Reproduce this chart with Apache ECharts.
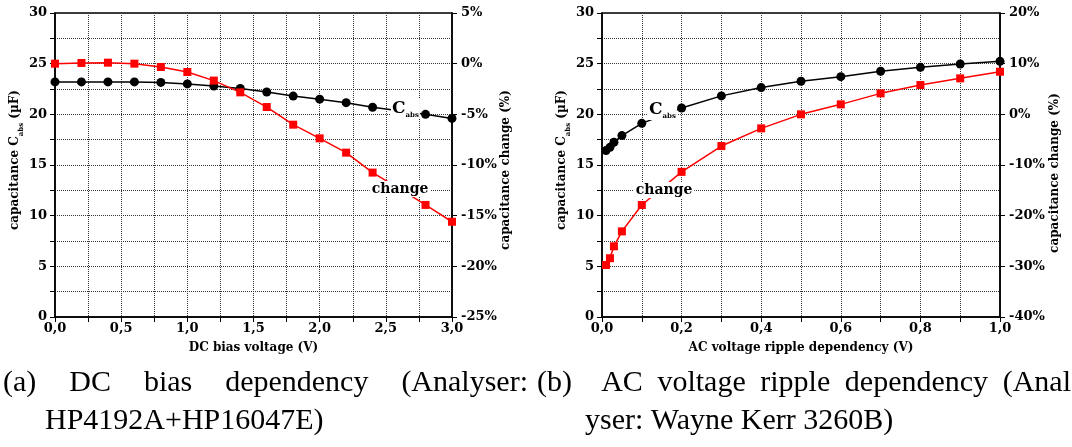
<!DOCTYPE html>
<html>
<head>
<meta charset="utf-8">
<script src="https://cdn.jsdelivr.net/npm/echarts@6/dist/echarts.min.js"></script>
<style>
html,body{margin:0;padding:0;background:#fff;}
#chart{width:1072px;height:447px;}
</style>
</head>
<body>
<div id="chart"></div>
<script>
// ---- data ----
const dcVoltage = [0.0,0.2,0.4,0.6,0.8,1.0,1.2,1.4,1.6,1.8,2.0,2.2,2.4,2.6,2.8,3.0];
const dcCabs    = [23.2,23.2,23.2,23.2,23.15,23.0,22.8,22.55,22.2,21.8,21.5,21.15,20.7,20.35,20.0,19.6];
const dcChange  = [0.0,0.07,0.1,0.0,-0.33,-0.82,-1.67,-2.83,-4.28,-6.02,-7.37,-8.78,-10.75,-12.3,-13.94,-15.6];

const acRipple  = [0.01,0.02,0.03,0.05,0.1,0.2,0.3,0.4,0.5,0.6,0.7,0.8,0.9,1.0];
const acCabs    = [16.42,16.74,17.24,17.9,19.11,20.63,21.82,22.64,23.26,23.72,24.25,24.64,24.97,25.23];
const acChange  = [-29.74,-28.4,-26.05,-23.1,-17.9,-11.35,-6.26,-2.77,0.0,1.97,4.14,5.78,7.1,8.41];

const captionA1 = ['(a)','DC','bias','dependency','(Analyser:'];
const captionA2 = 'HP4192A+HP16047E)';
const captionB1 = ['(b)','AC','voltage','ripple','dependency','(Anal'];
const captionB2 = 'yser: Wayne Kerr 3260B)';

const xNameA = 'DC bias voltage (V)';
const xNameB = 'AC voltage ripple dependency (V)';

// ---- styling helpers ----
const AX_FONT = 'DejaVu Serif';
const zip = (xs, ys) => xs.map((x, i) => [x, ys[i]]);
const comma = v => v.toFixed(1).replace('.', ',');
const gridLine = {show:true, lineStyle:{type:[1,1], color:'#333', width:1}};
const labelStyle = {color:'#000', fontFamily:AX_FONT, fontWeight:'bold', fontSize:13};

function xAxisDef(gi, max, interval, name, minorSplit) {
  return {
    gridIndex:gi, type:'value', min:0, max:max, interval:interval,
    axisLine:{show:true, lineStyle:{color:'#000', width:1.5}},
    axisTick:{show:true, inside:false, length:5, lineStyle:{color:'#000', width:1}},
    minorTick:{show:true, splitNumber:minorSplit, length:5, lineStyle:{color:'#000', width:1}},
    splitLine:gridLine, minorSplitLine:gridLine,
    axisLabel:Object.assign({formatter:comma, margin:5}, labelStyle),
    name:name, nameLocation:'middle', nameGap:25,
    nameTextStyle:{color:'#000', fontFamily:AX_FONT, fontWeight:'bold', fontSize:12}
  };
}
function yLeftDef(gi) {
  return {
    gridIndex:gi, type:'value', min:0, max:30, interval:5, position:'left',
    axisLine:{show:true, lineStyle:{color:'#000', width:1.5}},
    axisTick:{show:true, inside:false, length:5, lineStyle:{color:'#000'}},
    minorTick:{show:true, splitNumber:2, length:5, lineStyle:{color:'#000'}},
    splitLine:gridLine, minorSplitLine:gridLine,
    axisLabel:Object.assign({margin:8}, labelStyle)
  };
}
function yRightDef(gi, min, max, interval) {
  return {
    gridIndex:gi, type:'value', min:min, max:max, interval:interval, position:'right',
    axisLine:{show:true, lineStyle:{color:'#000', width:1.5}},
    axisTick:{show:true, inside:false, length:5, lineStyle:{color:'#000'}},
    splitLine:{show:false},
    axisLabel:Object.assign({margin:9, formatter:'{value}%'}, labelStyle)
  };
}
function lineSeries(xi, yi, data, color, symbol, size) {
  return {
    type:'line', xAxisIndex:xi, yAxisIndex:yi, data:data,
    symbol:symbol, symbolSize:size, showSymbol:true,
    lineStyle:{color:color, width:1.5}, itemStyle:{color:color},
    clip:false, z:3
  };
}

// ---- graphic text helpers ----
const subRich = {
  c:{fontFamily:AX_FONT, fontWeight:'bold', fontSize:17, lineHeight:19, verticalAlign:'top', fill:'#000'},
  s:{fontFamily:AX_FONT, fontWeight:'bold', fontSize:7, lineHeight:8, verticalAlign:'bottom', fill:'#000'}
};
function cabsLabel(x, y) {
  return {type:'text', x:x, y:y, z:100,
    style:{text:'{c|C}{s|abs}', rich:subRich, backgroundColor:'#fff', padding:[1,1,0,1]}};
}
function changeLabel(x, y) {
  return {type:'text', x:x, y:y, z:100,
    style:{text:'change', fontFamily:AX_FONT, fontWeight:'bold', fontSize:14, fill:'#000',
      align:'center', verticalAlign:'middle', backgroundColor:'#fff', padding:[1,2,1,2]}};
}
const yNameRich = {
  a:{fontFamily:AX_FONT, fontWeight:'bold', fontSize:12, fill:'#000', lineHeight:16, verticalAlign:'top'},
  s:{fontFamily:AX_FONT, fontWeight:'bold', fontSize:7, fill:'#000', lineHeight:8, verticalAlign:'bottom'}
};
function yNameCabs(x, y) {
  return {type:'text', x:x, y:y, rotation:Math.PI/2, z:100,
    style:{text:'{a|capacitance C}{s|abs}{a| (µF)}', rich:yNameRich, align:'center', verticalAlign:'middle'}};
}
function yNameChange(x, y) {
  return {type:'text', x:x, y:y, rotation:Math.PI/2, z:100,
    style:{text:'capacitance change (%)', fontFamily:AX_FONT, fontWeight:'bold', fontSize:12, fill:'#000',
      align:'center', verticalAlign:'middle'}};
}

const CAP_FONT_SIZE = 30;
const CAP_FONT = CAP_FONT_SIZE + 'px "Liberation Serif"';
const measureCtx = document.createElement('canvas').getContext('2d');
// gapWeights: relative weight of each inter-word gap (the label gap is wider)
function justifiedWords(words, x0, x1, y, gapWeights) {
  measureCtx.font = CAP_FONT;
  const widths = words.map(w => measureCtx.measureText(w).width);
  const total = widths.reduce((a, b) => a + b, 0);
  const weights = gapWeights || words.slice(1).map(() => 1);
  const unit = (x1 - x0 - total) / weights.reduce((a, b) => a + b, 0);
  let x = x0;
  return words.map((w, i) => {
    const el = {type:'text', x:x, y:y, z:100,
      style:{text:w, fontFamily:'Liberation Serif', fontSize:CAP_FONT_SIZE, fill:'#000', verticalAlign:'middle'}};
    if (i < weights.length) x += widths[i] + unit * weights[i];
    return el;
  });
}
function plainText(t, x, y) {
  return {type:'text', x:x, y:y, z:100,
    style:{text:t, fontFamily:'Liberation Serif', fontSize:CAP_FONT_SIZE, fill:'#000', verticalAlign:'middle'}};
}

const chart = echarts.init(document.getElementById('chart'), null, {renderer:'canvas'});
const option = {
  animation:false,
  backgroundColor:'#fff',
  grid:[
    {left:55, top:13, width:397, height:304, show:true, borderColor:'#000', borderWidth:1.5, backgroundColor:'transparent'},
    {left:602, top:13, width:398, height:304, show:true, borderColor:'#000', borderWidth:1.5, backgroundColor:'transparent'}
  ],
  xAxis:[
    xAxisDef(0, 3, 0.5, xNameA, 2),
    xAxisDef(1, 1, 0.2, xNameB, 2)
  ],
  yAxis:[
    yLeftDef(0), yRightDef(0, -25, 5, 5),
    yLeftDef(1), yRightDef(1, -40, 20, 10)
  ],
  series:[
    lineSeries(0, 0, zip(dcVoltage, dcCabs), '#000', 'circle', 9),
    lineSeries(0, 1, zip(dcVoltage, dcChange), '#ff0000', 'rect', 8),
    lineSeries(1, 2, zip(acRipple, acCabs), '#000', 'circle', 9),
    lineSeries(1, 3, zip(acRipple, acChange), '#ff0000', 'rect', 8)
  ],
  graphic:[].concat(
    [cabsLabel(391, 99), changeLabel(400, 189), cabsLabel(648, 100), changeLabel(664, 190),
     yNameCabs(17, 160), yNameChange(506, 170), yNameCabs(564, 160), yNameChange(1055, 173)],
    justifiedWords(captionA1, 3, 528, 383),
    justifiedWords(captionB1, 537, 1071, 383, [2,1,1,1,1]),
    [plainText(captionA2, 45, 421), plainText(captionB2, 585, 421)]
  )
};
chart.setOption(option);
</script>
</body>
</html>
